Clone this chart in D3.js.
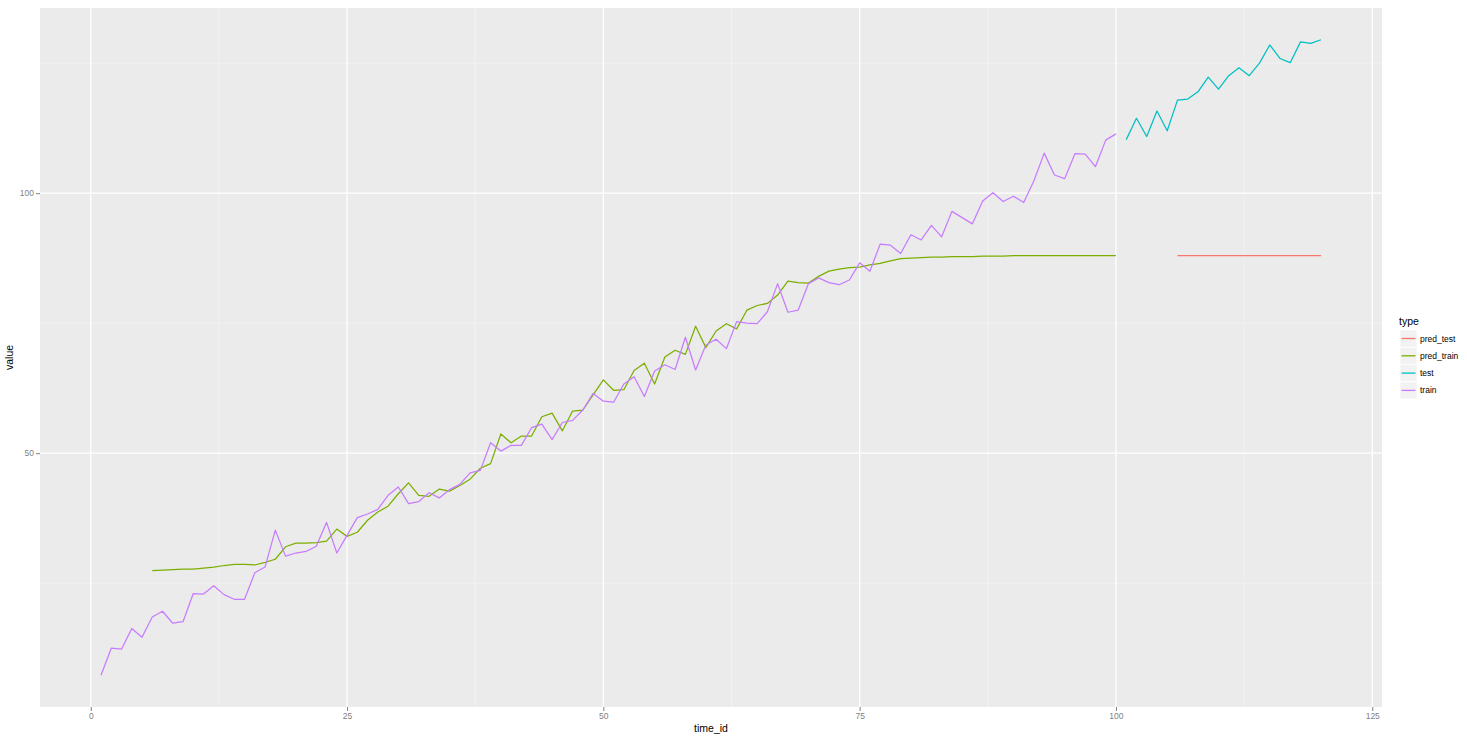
<!DOCTYPE html>
<html>
<head>
<meta charset="utf-8">
<script src="https://cdn.jsdelivr.net/npm/d3@7"></script>
<style>
  body { margin: 0; background: #fff; }
  svg { display: block; font-family: "Liberation Sans", Arial, sans-serif; }
</style>
</head>
<body>
<svg id="chart" width="1467" height="736"></svg>
<script>
// Observed training series, time_id 1..100
const trainValues = [
  7.3, 12.5, 12.3, 16.3, 14.6, 18.5, 19.6, 17.3, 17.6, 23.0,
  22.9, 24.5, 22.8, 21.9, 21.9, 27.0, 28.1, 35.2, 30.2, 30.8,
  31.1, 32.1, 36.7, 30.8, 34.2, 37.6, 38.3, 39.2, 41.9, 43.5,
  40.3, 40.7, 42.4, 41.4, 43.0, 44.0, 46.2, 46.7, 52.0, 50.4,
  51.5, 51.5, 54.9, 55.6, 52.6, 55.9, 56.3, 58.3, 61.5, 60.0,
  59.8, 63.3, 64.7, 60.9, 65.8, 67.0, 66.1, 72.3, 66.0, 70.8,
  71.9, 70.1, 75.3, 75.0, 74.9, 77.2, 82.6, 77.1, 77.5, 82.6,
  83.7, 82.8, 82.4, 83.3, 86.6, 85.0, 90.2, 90.0, 88.4, 92.0,
  91.0, 93.8, 91.6, 96.5, 95.3, 94.1, 98.5, 100.1, 98.4, 99.4,
  98.2, 102.4, 107.7, 103.5, 102.8, 107.6, 107.5, 105.1, 110.2, 111.4
];
// Fitted values on the training range, time_id 6..100
const predTrainValues = [
  27.4, 27.5, 27.6, 27.7, 27.7, 27.9, 28.1, 28.4, 28.6, 28.6,
  28.5, 29.0, 29.6, 32.0, 32.7, 32.7, 32.8, 33.1, 35.4, 34.0,
  34.8, 37.1, 38.7, 39.8, 42.2, 44.3, 41.9, 41.7, 43.1, 42.7,
  43.8, 45.0, 47.1, 48.0, 53.7, 52.0, 53.3, 53.3, 57.0, 57.7,
  54.3, 58.1, 58.3, 61.2, 64.1, 62.1, 62.2, 65.9, 67.3, 63.3,
  68.5, 69.8, 69.0, 74.4, 70.3, 73.5, 74.9, 73.9, 77.5, 78.4,
  78.8, 80.4, 83.1, 82.8, 82.7, 84.0, 85.0, 85.4, 85.7, 85.8,
  86.2, 86.5, 87.0, 87.4, 87.5, 87.6, 87.7, 87.7, 87.8, 87.8,
  87.8, 87.9, 87.9, 87.9, 88.0, 88.0, 88.0, 88.0, 88.0, 88.0,
  88.0, 88.0, 88.0, 88.0, 88.0
];
// Held-out test series, time_id 101..120
const testValues = [
  110.3, 114.4, 110.9, 115.8, 112.0, 117.9, 118.1, 119.5, 122.3, 120.0,
  122.6, 124.1, 122.6, 125.0, 128.5, 125.9, 125.1, 129.1, 128.8, 129.5
];
// Forecast on the test range, time_id 106..120
const predTestValues = [
  88.0, 88.0, 88.0, 88.0, 88.0, 88.0, 88.0, 88.0, 88.0, 88.0,
  88.0, 88.0, 88.0, 88.0, 88.0
];

const typeNames = ["pred_test", "pred_train", "test", "train"];
const typeColors = ["#F8766D", "#7CAE00", "#00BFC4", "#C77CFF"];
const xTicks = [0, 25, 50, 75, 100, 125];
const yTicks = [50, 100];

const toPoints = (vals, start) => vals.map((v, i) => ({ t: start + i, v }));
const series = [
  { type: "pred_test", points: toPoints(predTestValues, 106) },
  { type: "pred_train", points: toPoints(predTrainValues, 6) },
  { type: "test", points: toPoints(testValues, 101) },
  { type: "train", points: toPoints(trainValues, 1) }
];

const svg = d3.select("#chart");
const panel = { left: 40, right: 1382, top: 8, bottom: 707 };

const allPts = series.flatMap(s => s.points);
const xExt = d3.extent(allPts, d => d.t);
const yExt = d3.extent(allPts, d => d.v);
const xPad = (xExt[1] - xExt[0]) * 0.05;
const yPad = (yExt[1] - yExt[0]) * 0.05;

const x = d3.scaleLinear().domain([xExt[0] - xPad, xExt[1] + xPad]).range([panel.left, panel.right]);
const y = d3.scaleLinear().domain([yExt[0] - yPad, yExt[1] + yPad]).range([panel.bottom, panel.top]);
const color = d3.scaleOrdinal().domain(typeNames).range(typeColors);

// Panel background
svg.append("rect")
  .attr("x", panel.left).attr("y", panel.top)
  .attr("width", panel.right - panel.left).attr("height", panel.bottom - panel.top)
  .attr("fill", "#EBEBEB");

// Minor grid lines midway between major breaks
const xMinor = d3.range(xTicks.length - 1).map(i => (xTicks[i] + xTicks[i + 1]) / 2);
const yMinor = [25, 75, 125];
const grid = svg.append("g");
grid.selectAll(".xminor").data(xMinor).join("line")
  .attr("x1", d => x(d)).attr("x2", d => x(d))
  .attr("y1", panel.top).attr("y2", panel.bottom)
  .attr("stroke", "#F5F5F5").attr("stroke-width", 0.7);
grid.selectAll(".yminor").data(yMinor).join("line")
  .attr("x1", panel.left).attr("x2", panel.right)
  .attr("y1", d => y(d)).attr("y2", d => y(d))
  .attr("stroke", "#F5F5F5").attr("stroke-width", 0.7);
grid.selectAll(".xmajor").data(xTicks).join("line")
  .attr("x1", d => x(d)).attr("x2", d => x(d))
  .attr("y1", panel.top).attr("y2", panel.bottom)
  .attr("stroke", "#FFFFFF").attr("stroke-width", 1.3);
grid.selectAll(".ymajor").data(yTicks).join("line")
  .attr("x1", panel.left).attr("x2", panel.right)
  .attr("y1", d => y(d)).attr("y2", d => y(d))
  .attr("stroke", "#FFFFFF").attr("stroke-width", 1.3);

// Series lines
const line = d3.line().x(d => x(d.t)).y(d => y(d.v));
svg.append("g").selectAll("path").data(series).join("path")
  .attr("d", d => line(d.points))
  .attr("fill", "none")
  .attr("stroke", d => color(d.type))
  .attr("stroke-width", 1.25)
  .attr("stroke-linejoin", "round");

// Axes
const xAxis = svg.append("g")
  .attr("transform", `translate(0,${panel.bottom})`)
  .call(d3.axisBottom(x).tickValues(xTicks).tickSize(4).tickPadding(2));
const yAxis = svg.append("g")
  .attr("transform", `translate(${panel.left},0)`)
  .call(d3.axisLeft(y).tickValues(yTicks).tickSize(4).tickPadding(2));
[xAxis, yAxis].forEach(a => {
  a.select(".domain").remove();
  a.selectAll(".tick line").attr("stroke", "#7F7F7F");
  a.selectAll(".tick text").attr("fill", "#7F7F7F")
    .attr("font-size", 8.5).attr("font-family", "Liberation Sans, Arial, sans-serif");
});

// Axis titles
svg.append("text")
  .attr("x", (panel.left + panel.right) / 2).attr("y", 732)
  .attr("text-anchor", "middle").attr("font-size", 10.5).attr("fill", "#000")
  .text("time_id");
svg.append("text")
  .attr("transform", `translate(13,${(panel.top + panel.bottom) / 2}) rotate(-90)`)
  .attr("text-anchor", "middle").attr("font-size", 10.5).attr("fill", "#000")
  .text("value");

// Legend
const legend = svg.append("g").attr("transform", "translate(1399,0)");
legend.append("text")
  .attr("x", 0).attr("y", 325)
  .attr("font-size", 10.5).attr("fill", "#000")
  .text("type");
const rows = legend.selectAll(".row").data(typeNames).join("g")
  .attr("transform", (d, i) => `translate(0,${330 + i * 17.3})`);
rows.append("rect")
  .attr("x", 1).attr("y", 0).attr("width", 17).attr("height", 17)
  .attr("fill", "#F2F2F2").attr("stroke", "#FFFFFF").attr("stroke-width", 0.8);
rows.append("line")
  .attr("x1", 2.5).attr("x2", 16.5).attr("y1", 8.5).attr("y2", 8.5)
  .attr("stroke", d => color(d)).attr("stroke-width", 1.3);
rows.append("text")
  .attr("x", 21).attr("y", 11.5)
  .attr("font-size", 8.5).attr("fill", "#000")
  .text(d => d);
</script>
</body>
</html>
